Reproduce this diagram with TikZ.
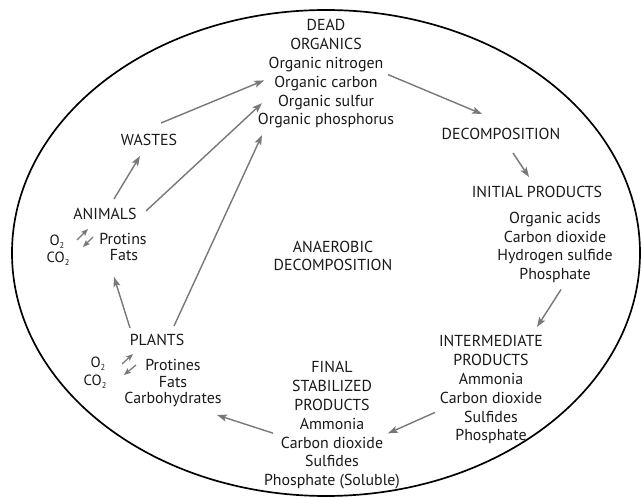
\documentclass[tikz,border=0pt]{standalone}
\usepackage{fontspec}
\setmainfont{PT Sans}
\usepackage{tikz}
\usetikzlibrary{arrows.meta, calc}
\definecolor{arrowgray}{RGB}{120,120,120}
\newcommand{\sbtwo}{\raisebox{-0.35ex}{\fontsize{6}{6}\selectfont 2}}
\tikzset{
  txt/.style={inner sep=0pt, text height=8pt, text depth=2.5pt, font=\fontsize{11.3}{13}\selectfont, text=black!90},
  gastxt/.style={txt, text height=7pt, text depth=1.5pt, font=\fontsize{10.5}{12}\selectfont},
  flow/.style={draw=arrowgray, line width=1pt, -{Stealth[length=7pt,width=5pt,inset=1.5pt]}},
  gas/.style={draw=arrowgray, line width=0.9pt, -{Stealth[length=5pt,width=4pt,inset=1pt]}}
}

\begin{document}
\begin{tikzpicture}[x=0.025cm, y=-0.025cm]
        \useasboundingbox (0,0) rectangle (641,498);
        % Cycle
        \draw[line width=1.2pt] (326,253) ellipse [x radius=314, y radius=243];

        % Matieres mortes
        \foreach \t [count=\i] in {DEAD, ORGANICS, Organic nitrogen, Organic carbon, Organic sulfur, Organic phosphorus}
            \node[txt] (d\i) at (326, {27+18.8*(\i-1)}) {\t};

        % Decomposition
        \node[txt] (dec) at (501,136) {DECOMPOSITION};
        \node[txt] (init) at (537,194) {INITIAL PRODUCTS};
        \foreach \t [count=\i] in {Organic acids, Carbon dioxide, Hydrogen sulfide, Phosphate}
            \node[txt] (i\i) at (555, {220+18.5*(\i-1)}) {\t};
        \foreach \t [count=\i] in {INTERMEDIATE, PRODUCTS, Ammonia, Carbon dioxide, Sulfides, Phosphate}
            \node[txt] (m\i) at (491, {343+18.8*(\i-1)}) {\t};
        \foreach \t [count=\i] in {FINAL, STABILIZED, PRODUCTS, Ammonia, Carbon dioxide, Sulfides, Phosphate (Soluble)}
            \node[txt] (f\i) at (332, {369+18.8*(\i-1)}) {\t};

        % Plantes
        \node[txt] (plants) at (157,342) {PLANTS};
        \foreach \t [count=\i] in {Protines, Fats, Carbohydrates}
            \node[txt] (p\i) at (173, {367+16.5*(\i-1)}) {\t};
        \node[gastxt] (o2p) at (98,364) {O\sbtwo};
        \node[gastxt] (co2p) at (95,382) {CO\sbtwo};

        % Animaux
        \node[txt] (animals) at (105,216) {ANIMALS};
        \node[txt] (a1) at (123,241) {Protins};
        \node[txt] (a2) at (124,257) {Fats};
        \node[gastxt] (o2a) at (57,242) {O\sbtwo};
        \node[gastxt] (co2a) at (58,259) {CO\sbtwo};
        \node[txt] (wastes) at (149,142) {WASTES};

        % Centre
        \node[txt] (an1) at (333,249) {ANAEROBIC};
        \node[txt] (an2) at (333,267) {DECOMPOSITION};

        % Fleches
        \draw[flow] ($(d3)+(62,10)$) -- ($(dec)+(-19,-22)$);
        \draw[flow] ($(dec)+(12,17)$) -- ($(init)+(-8,-17)$);
        \draw[flow] ($(i4)+(6,14)$) -- ($(m1)+(46,-16)$);
        \draw[flow] ($(m4)+(-56,13)$) -- ($(f4)+(56,8)$);
        \draw[flow] ($(f5)+(-59,-11)$) -- ($(p3)+(44,15)$);
        \draw[flow] ($(plants)+(-27,-14)$) -- ($(a2)+(-10,20)$);
        \draw[flow] ($(plants)+(17,-16)$) -- ($(d6)+(-64,14)$);
        \draw[flow] ($(animals)+(9,-17)$) -- ($(wastes)+(-9,14)$);
        \draw[flow] ($(animals)+(41,-5)$) -- ($(d5)+(-64,1)$);
        \draw[flow] ($(wastes)+(12,-19)$) -- ($(d4)+(-62,-3)$);

        % Echanges gazeux
        \draw[gas] ($(o2a)+(20,-2)$) -- ($(a1)+(-35,-12)$);
        \draw[gas] ($(a1)+(-30,-4)$) -- ($(o2a)+(26,5)$);
        \draw[gas] ($(o2p)+(24,0)$) -- ($(p1)+(-40,-13)$);
        \draw[gas] ($(p1)+(-37,-2)$) -- ($(o2p)+(26,11)$);
\end{tikzpicture}
\end{document}
